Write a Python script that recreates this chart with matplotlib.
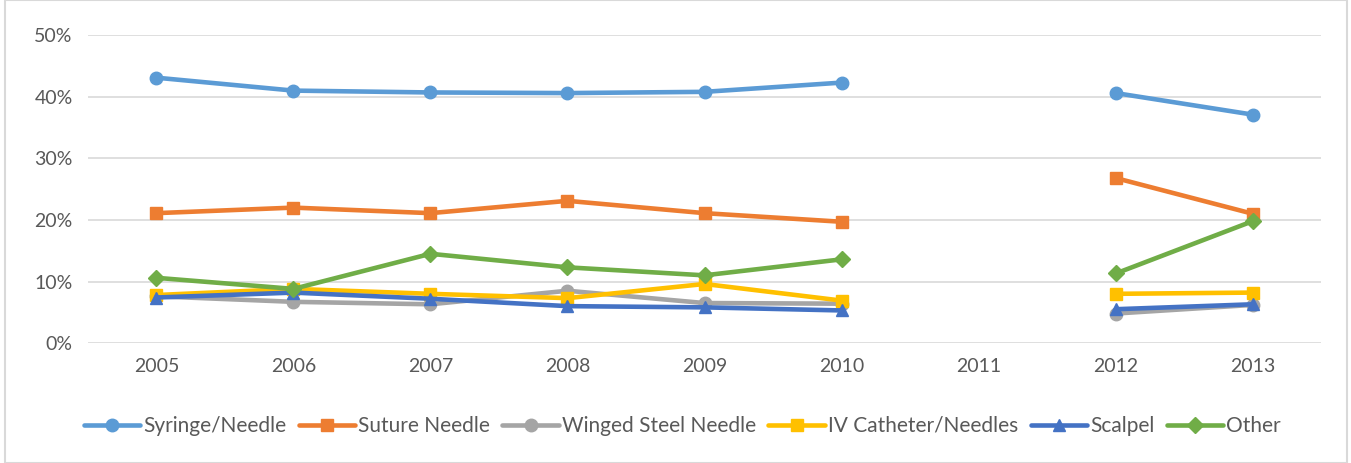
import numpy as np
import matplotlib.pyplot as plt

plt.rcParams['font.family'] = ['Lato', 'DejaVu Sans']

years = ['2005', '2006', '2007', '2008', '2009', '2010', '2011', '2012', '2013']
nan = np.nan

# values in percent, 2011 has no data
syringe = [43.1, 41.0, 40.7, 40.6, 40.8, 42.3, nan, 40.6, 37.1]
suture  = [21.1, 22.0, 21.1, 23.1, 21.1, 19.7, nan, 26.8, 21.0]
winged  = [7.6, 6.7, 6.3, 8.5, 6.5, 6.4, nan, 4.8, 6.2]
iv_cath = [7.8, 8.8, 8.0, 7.3, 9.6, 6.9, nan, 8.0, 8.2]
scalpel = [7.4, 8.2, 7.2, 6.0, 5.8, 5.3, nan, 5.5, 6.3]
other   = [10.6, 8.8, 14.5, 12.3, 11.0, 13.6, nan, 11.3, 19.8]

series = [
    ('Syringe/Needle', syringe, '#5B9BD5', 'o'),
    ('Suture Needle', suture, '#ED7D31', 's'),
    ('Winged Steel Needle', winged, '#A5A5A5', 'o'),
    ('IV Catheter/Needles', iv_cath, '#FFC000', 's'),
    ('Scalpel', scalpel, '#4472C4', '^'),
    ('Other', other, '#70AD47', 'D'),
]

fig = plt.figure(figsize=(13.51, 4.63), dpi=100)
ax = fig.add_axes([0.065, 0.259, 0.913, 0.665])

x = np.arange(len(years))
for name, vals, col, mk in series:
    ms = 8 if mk == 'D' else 9
    ax.plot(x, np.array(vals) / 100, color=col, lw=3.3, marker=mk, ms=ms,
            label=name, solid_capstyle='round')

ax.set_xlim(-0.5, len(years) - 0.5)
ax.set_ylim(0, 0.5)
ax.set_yticks(np.arange(0, 0.51, 0.1))
ax.set_yticklabels([f'{int(round(v * 100))}%' for v in np.arange(0, 0.51, 0.1)])
ax.set_xticks(x)
ax.set_xticklabels(years)
ax.grid(axis='y', color='#D9D9D9', lw=1.2)
ax.set_axisbelow(True)
for s in ax.spines.values():
    s.set_visible(False)
ax.tick_params(length=0, labelsize=14, colors='#595959', pad=11)

leg = fig.legend(loc='center', bbox_to_anchor=(0.505, 0.08), ncol=6, frameon=False,
                 fontsize=15, handlelength=2.7, columnspacing=0.6, handletextpad=0.15)
for t in leg.get_texts():
    t.set_color('#595959')

# light border round the chart area
fig.patches.append(plt.Rectangle((0.004, 0.0), 0.993, 1.0, transform=fig.transFigure,
                                 fill=False, edgecolor='#D9D9D9', lw=1.5))

fig.savefig('out.png', dpi=100)
